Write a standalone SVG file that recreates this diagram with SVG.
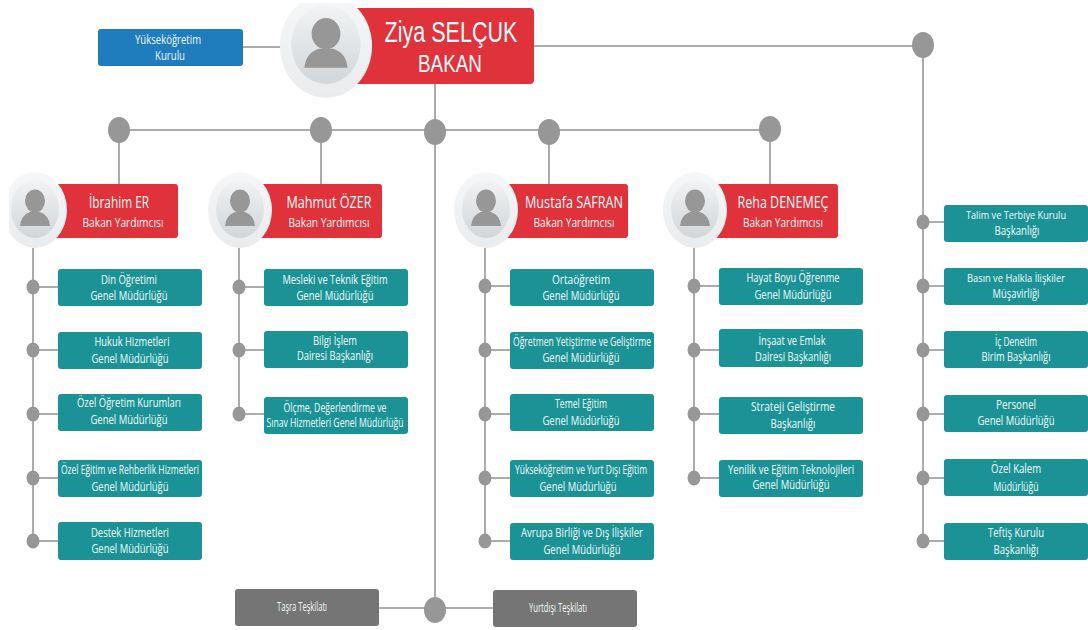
<svg xmlns="http://www.w3.org/2000/svg" width="1088" height="630" viewBox="0 0 1088 630">
<style>
text{font-family:"Open Sans","Noto Sans","Liberation Sans",sans-serif;fill:#f4fbfa;text-anchor:middle;font-size:12px}
text.s{font-size:11px}
.l{fill:none;stroke:#ababab;stroke-width:2}
.n{fill:#979797}
.t{fill:#1b9396}
.r{fill:#e0323a}
.g{fill:#757575}
.b{fill:#1f7cbd}
.big{font-family:"Liberation Sans",Arial,sans-serif;font-size:29px}
.big2{font-family:"Liberation Sans",Arial,sans-serif;font-size:24px}
.nm{font-size:16.500px}
.sub{font-size:12.500px}
</style>
<defs>
<linearGradient id="o" x1="0" y1="0" x2="0" y2="1"><stop offset="0" stop-color="#f6f7f8"/><stop offset="1" stop-color="#e9ebed"/></linearGradient>
<linearGradient id="i" x1="0" y1="0" x2="0" y2="1"><stop offset="0" stop-color="#f1f3f4"/><stop offset="1" stop-color="#d2d6d9"/></linearGradient>
<g id="av">
<ellipse rx="32" ry="38" fill="url(#o)"/>
<ellipse cy="-1" rx="24" ry="29" fill="url(#i)"/>
<ellipse cy="-9" rx="10" ry="11.500" fill="#979797"/>
<path d="M-15 16Q-14 5-5 2H5Q14 5 15 16Z" fill="#979797"/>
</g>
<ellipse id="d" rx="6.500" ry="7.500" class="n"/>
</defs>
<rect width="1088" height="630" fill="#fff"/>
<g id="connectors">
<path class="l" d="M243 47H285M534 46H923V541M435 84V610M119 130H770M119 130V184M321 130V184M549 130V184M770 130V184M379 608H493"/>
<path class="l" d="M33 248V541M33 287H58M33 350H58M33 414H58M33 478H58M33 541H58"/>
<path class="l" d="M239 248V414M239 287H264M239 350H264M239 414H264"/>
<path class="l" d="M485 248V541M485 286H510M485 350H510M485 414H510M485 478H510M485 541H510"/>
<path class="l" d="M694 248V478M694 286H719M694 350H719M694 414H719M694 478H719"/>
<path class="l" d="M923 222H944M923 286H944M923 350H944M923 414H944M923 478H944M923 541H944"/>
<g class="n">
<ellipse cx="119" cy="130" rx="11" ry="13"/><ellipse cx="321" cy="130" rx="11" ry="13"/><ellipse cx="435" cy="132" rx="11" ry="13"/><ellipse cx="549" cy="132" rx="11" ry="13"/><ellipse cx="770" cy="129" rx="11" ry="13"/><ellipse cx="923" cy="45" rx="11" ry="13"/><ellipse cx="435" cy="610" rx="11" ry="13"/>
</g>
<use href="#d" x="33" y="287"/><use href="#d" x="33" y="350"/><use href="#d" x="33" y="414"/><use href="#d" x="33" y="478"/><use href="#d" x="33" y="541"/>
<use href="#d" x="239" y="287"/><use href="#d" x="239" y="350"/><use href="#d" x="239" y="414"/>
<use href="#d" x="485" y="286"/><use href="#d" x="485" y="350"/><use href="#d" x="485" y="414"/><use href="#d" x="485" y="478"/><use href="#d" x="485" y="541"/>
<use href="#d" x="694" y="286"/><use href="#d" x="694" y="350"/><use href="#d" x="694" y="414"/><use href="#d" x="694" y="478"/>
<use href="#d" x="923" y="222"/><use href="#d" x="923" y="286"/><use href="#d" x="923" y="350"/><use href="#d" x="923" y="414"/><use href="#d" x="923" y="478"/><use href="#d" x="923" y="541"/>
</g>
<g id="yok"><rect class="b" x="98" y="29" width="145" height="37" rx="3"/><text x="168" y="44" textLength="66" lengthAdjust="spacingAndGlyphs">Yükseköğretim</text><text x="170" y="60" textLength="30" lengthAdjust="spacingAndGlyphs">Kurulu</text></g>
<g id="bakan"><rect class="r" x="350" y="8" width="184" height="76" rx="4"/><use href="#av" transform="translate(326 46) scale(1.44 1.36)"/><rect x="270" y="0" width="110" height="3" fill="#fff"/><text class="big" x="451" y="42" textLength="133" lengthAdjust="spacingAndGlyphs">Ziya SELÇUK</text><text class="big2" x="450" y="72" textLength="64" lengthAdjust="spacingAndGlyphs">BAKAN</text></g>
<g id="ibrahim"><rect class="r" x="50" y="184" width="128" height="54" rx="3"/><use href="#av" x="35" y="210"/><rect x="0" y="170" width="9" height="82" fill="#fff"/><text class="nm" x="119" y="208" textLength="60" lengthAdjust="spacingAndGlyphs">İbrahim ER</text><text class="sub" x="123" y="227" textLength="81" lengthAdjust="spacingAndGlyphs">Bakan Yardımcısı</text></g>
<g id="mahmut"><rect class="r" x="255" y="184" width="127" height="54" rx="3"/><use href="#av" x="240" y="210"/><text class="nm" x="329" y="208" textLength="85" lengthAdjust="spacingAndGlyphs">Mahmut ÖZER</text><text class="sub" x="329" y="227" textLength="81" lengthAdjust="spacingAndGlyphs">Bakan Yardımcısı</text></g>
<g id="mustafa"><rect class="r" x="501" y="184" width="127" height="54" rx="3"/><use href="#av" x="486" y="210"/><text class="nm" x="574" y="208" textLength="98" lengthAdjust="spacingAndGlyphs">Mustafa SAFRAN</text><text class="sub" x="574" y="227" textLength="81" lengthAdjust="spacingAndGlyphs">Bakan Yardımcısı</text></g>
<g id="reha"><rect class="r" x="710" y="184" width="128" height="54" rx="3"/><use href="#av" x="695" y="210"/><text class="nm" x="783" y="208" textLength="91" lengthAdjust="spacingAndGlyphs">Reha DENEMEÇ</text><text class="sub" x="783" y="227" textLength="80" lengthAdjust="spacingAndGlyphs">Bakan Yardımcısı</text></g>

<g id="din"><rect class="t" x="58" y="269" width="144" height="37" rx="3"/><text x="129" y="284" textLength="56" lengthAdjust="spacingAndGlyphs">Din Öğretimi</text><text x="129" y="300" textLength="77" lengthAdjust="spacingAndGlyphs">Genel Müdürlüğü</text></g>
<g id="hukuk"><rect class="t" x="58" y="332" width="144" height="37" rx="3"/><text x="132" y="346" textLength="75" lengthAdjust="spacingAndGlyphs">Hukuk Hizmetleri</text><text x="130" y="363" textLength="77" lengthAdjust="spacingAndGlyphs">Genel Müdürlüğü</text></g>
<g id="ozelog"><rect class="t" x="58" y="394" width="144" height="37" rx="3"/><text x="129" y="407" textLength="104" lengthAdjust="spacingAndGlyphs">Özel Öğretim Kurumları</text><text x="129" y="424" textLength="77" lengthAdjust="spacingAndGlyphs">Genel Müdürlüğü</text></g>
<g id="ozelegt"><rect class="t" x="58" y="460" width="144" height="37" rx="3"/><text x="130" y="474" textLength="138" lengthAdjust="spacingAndGlyphs">Özel Eğitim ve Rehberlik Hizmetleri</text><text x="130" y="491" textLength="77" lengthAdjust="spacingAndGlyphs">Genel Müdürlüğü</text></g>
<g id="destek"><rect class="t" x="58" y="522" width="144" height="38" rx="3"/><text x="130" y="537" textLength="78" lengthAdjust="spacingAndGlyphs">Destek Hizmetleri</text><text x="130" y="553" textLength="77" lengthAdjust="spacingAndGlyphs">Genel Müdürlüğü</text></g>

<g id="mesleki"><rect class="t" x="264" y="269" width="144" height="37" rx="3"/><text x="335" y="284" textLength="105" lengthAdjust="spacingAndGlyphs">Mesleki ve Teknik Eğitim</text><text x="335" y="300" textLength="77" lengthAdjust="spacingAndGlyphs">Genel Müdürlüğü</text></g>
<g id="bilgi"><rect class="t" x="264" y="331" width="144" height="37" rx="3"/><text x="335" y="345" textLength="44" lengthAdjust="spacingAndGlyphs">Bilgi İşlem</text><text x="335" y="360" textLength="76" lengthAdjust="spacingAndGlyphs">Dairesi Başkanlığı</text></g>
<g id="olcme"><rect class="t" x="264" y="397" width="144" height="37" rx="3"/><text x="335" y="412" textLength="103" lengthAdjust="spacingAndGlyphs">Ölçme, Değerlendirme ve</text><text x="335" y="427" textLength="137" lengthAdjust="spacingAndGlyphs">Sınav Hizmetleri Genel Müdürlüğü</text></g>

<g id="orta"><rect class="t" x="510" y="269" width="144" height="37" rx="3"/><text x="581" y="284" textLength="58" lengthAdjust="spacingAndGlyphs">Ortaöğretim</text><text x="581" y="300" textLength="77" lengthAdjust="spacingAndGlyphs">Genel Müdürlüğü</text></g>
<g id="ogretmen"><rect class="t" x="510" y="332" width="144" height="37" rx="3"/><text x="582" y="346" textLength="138" lengthAdjust="spacingAndGlyphs">Öğretmen Yetiştirme ve Geliştirme</text><text x="581" y="362" textLength="77" lengthAdjust="spacingAndGlyphs">Genel Müdürlüğü</text></g>
<g id="temel"><rect class="t" x="510" y="394" width="144" height="37" rx="3"/><text x="581" y="408" textLength="52" lengthAdjust="spacingAndGlyphs">Temel Eğitim</text><text x="581" y="425" textLength="77" lengthAdjust="spacingAndGlyphs">Genel Müdürlüğü</text></g>
<g id="yuksek"><rect class="t" x="510" y="460" width="144" height="37" rx="3"/><text x="581" y="474" textLength="132" lengthAdjust="spacingAndGlyphs">Yükseköğretim ve Yurt Dışı Eğitim</text><text x="578" y="491" textLength="77" lengthAdjust="spacingAndGlyphs">Genel Müdürlüğü</text></g>
<g id="avrupa"><rect class="t" x="510" y="523" width="144" height="37" rx="3"/><text x="582" y="537" textLength="122" lengthAdjust="spacingAndGlyphs">Avrupa Birliği ve Dış İlişkiler</text><text x="582" y="554" textLength="77" lengthAdjust="spacingAndGlyphs">Genel Müdürlüğü</text></g>

<g id="hayat"><rect class="t" x="719" y="268" width="144" height="37" rx="3"/><text x="793" y="282" textLength="93" lengthAdjust="spacingAndGlyphs">Hayat Boyu Öğrenme</text><text x="793" y="299" textLength="77" lengthAdjust="spacingAndGlyphs">Genel Müdürlüğü</text></g>
<g id="insaat"><rect class="t" x="719" y="329" width="144" height="38" rx="3"/><text x="792" y="345" textLength="67" lengthAdjust="spacingAndGlyphs">İnşaat ve Emlak</text><text x="793" y="361" textLength="76" lengthAdjust="spacingAndGlyphs">Dairesi Başkanlığı</text></g>
<g id="strateji"><rect class="t" x="719" y="397" width="144" height="37" rx="3"/><text x="793" y="411" textLength="84" lengthAdjust="spacingAndGlyphs">Strateji Geliştirme</text><text x="793" y="428" textLength="45" lengthAdjust="spacingAndGlyphs">Başkanlığı</text></g>
<g id="yenilik"><rect class="t" x="719" y="460" width="144" height="37" rx="3"/><text x="791" y="474" textLength="126" lengthAdjust="spacingAndGlyphs">Yenilik ve Eğitim Teknolojileri</text><text x="791" y="489" textLength="77" lengthAdjust="spacingAndGlyphs">Genel Müdürlüğü</text></g>

<g id="talim"><rect class="t" x="944" y="205" width="144" height="37" rx="3"/><text class="s" x="1016" y="219" textLength="100" lengthAdjust="spacingAndGlyphs">Talim ve Terbiye Kurulu</text><text x="1017" y="235" textLength="45" lengthAdjust="spacingAndGlyphs">Başkanlığı</text></g>
<g id="basin"><rect class="t" x="944" y="268" width="144" height="37" rx="3"/><text class="s" x="1016" y="282" textLength="98" lengthAdjust="spacingAndGlyphs">Basın ve Halkla İlişkiler</text><text x="1016" y="298" textLength="47" lengthAdjust="spacingAndGlyphs">Müşavirliği</text></g>
<g id="ic"><rect class="t" x="944" y="331" width="144" height="37" rx="3"/><text x="1016" y="346" textLength="42" lengthAdjust="spacingAndGlyphs">İç Denetim</text><text x="1016" y="361" textLength="69" lengthAdjust="spacingAndGlyphs">Birim Başkanlığı</text></g>
<g id="personel"><rect class="t" x="944" y="395" width="144" height="37" rx="3"/><text x="1016" y="409" textLength="40" lengthAdjust="spacingAndGlyphs">Personel</text><text x="1016" y="425" textLength="77" lengthAdjust="spacingAndGlyphs">Genel Müdürlüğü</text></g>
<g id="kalem"><rect class="t" x="944" y="459" width="144" height="37" rx="3"/><text x="1016" y="473" textLength="50" lengthAdjust="spacingAndGlyphs">Özel Kalem</text><text x="1016" y="491" textLength="45" lengthAdjust="spacingAndGlyphs">Müdürlüğü</text></g>
<g id="teftis"><rect class="t" x="944" y="523" width="144" height="37" rx="3"/><text x="1016" y="537" textLength="56" lengthAdjust="spacingAndGlyphs">Teftiş Kurulu</text><text x="1016" y="554" textLength="45" lengthAdjust="spacingAndGlyphs">Başkanlığı</text></g>

<g id="tasra"><rect class="g" x="235" y="589" width="144" height="37" rx="3"/><text x="302" y="611" textLength="50" lengthAdjust="spacingAndGlyphs">Taşra Teşkilatı</text></g>
<g id="yurtdisi"><rect class="g" x="493" y="590" width="144" height="37" rx="3"/><text x="558" y="612" textLength="58" lengthAdjust="spacingAndGlyphs">Yurtdışı Teşkilatı</text></g>
</svg>
